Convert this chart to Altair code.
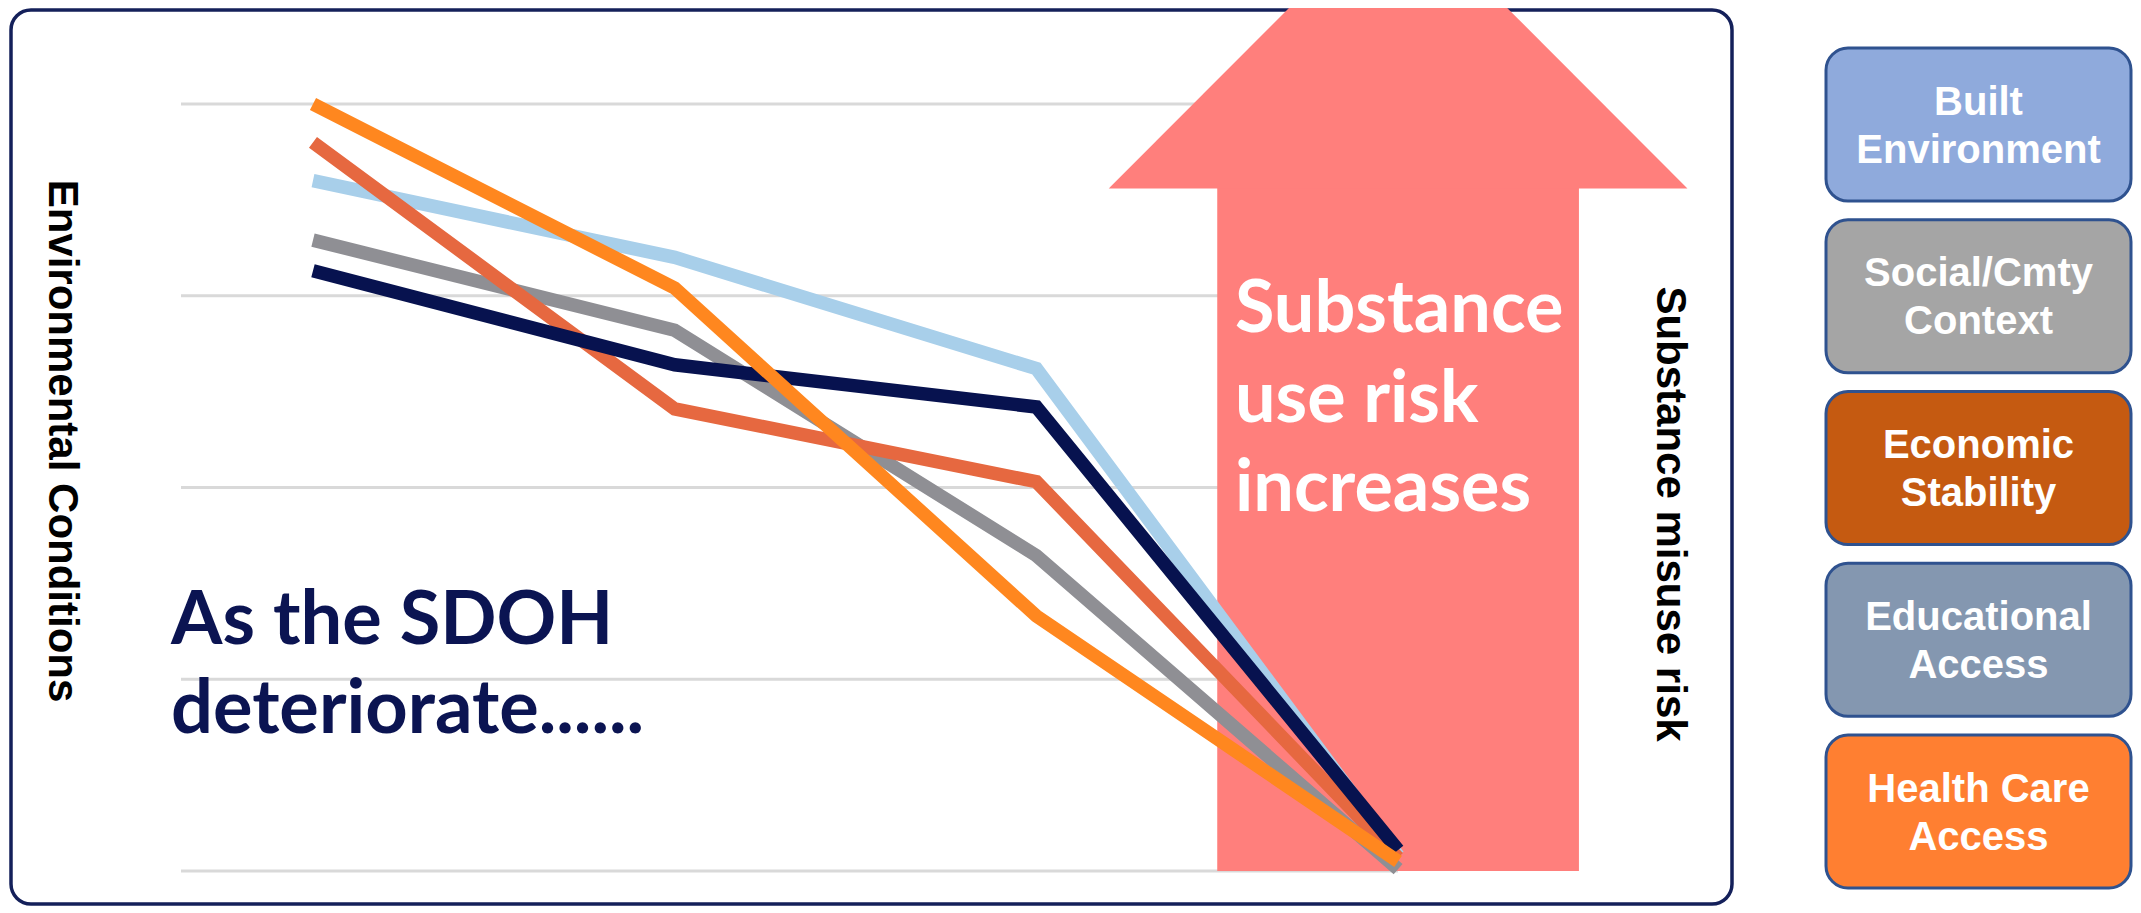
import altair as alt
import pandas as pd

# ---------------- data ----------------
steps = [0, 1, 2, 3]
built_environment = [3.60, 3.20, 2.62, 0.08]
social_context = [3.29, 2.82, 1.645, 0.01]
economic_stability = [3.80, 2.41, 2.03, 0.07]
educational_access = [3.13, 2.64, 2.42, 0.11]
health_care_access = [4.00, 3.04, 1.33, 0.05]

series_names = ["Built Environment", "Social/Cmty Context", "Economic Stability",
                "Educational Access", "Health Care Access"]
series_values = [built_environment, social_context, economic_stability,
                 educational_access, health_care_access]
line_colors = ["#A8CFEA", "#8F8F94", "#E66840", "#07124F", "#FF871F"]
box_colors = ["#8FAADC", "#A5A5A5", "#C55A11", "#8497B0", "#FF7F31"]
box_line1 = ["Built", "Social/Cmty", "Economic", "Educational", "Health Care"]
box_line2 = ["Environment", "Context", "Stability", "Access", "Access"]
grid_values = [0, 1, 2, 3, 4]

left_title = "Environmental Conditions"
right_title = "Substance misuse risk"
sdoh_text = "As the SDOH\ndeteriorate......"
arrow_text = "Substance\nuse risk\nincreases"

# arrow shape, in chart units (step, level)
arrow_shaft_x = [2.5, 3.5]
arrow_shaft_y = [0.0, 4.0]
arrow_head_x = [2.2, 3.0, 3.8]
arrow_head_y = [3.56, 5.07, 3.56]
arrow_head_base = 3.56

# ---------------- scales ----------------
W_LEFT, H = 1760, 897
W_RIGHT = 311
xs = alt.Scale(domain=[-0.8432, 4.0227], nice=False, zero=False)
ys = alt.Scale(domain=[-0.1773, 4.5007], nice=False, zero=False)

ARROW_COLOR = "#FF7F7C"
NAVY = "#0B1452"

# ---------------- left panel ----------------
one = pd.DataFrame({"k": [0]})

frame = alt.Chart(one).mark_rect(
    fill="transparent", stroke="#14205A", strokeWidth=3.5, cornerRadius=20
).encode(x=alt.value(3), x2=alt.value(1724), y=alt.value(2), y2=alt.value(896))

grid = alt.Chart(pd.DataFrame({"v": grid_values})).mark_rule(
    color="#D9D9D9", strokeWidth=3
).encode(
    y=alt.Y("v:Q", scale=ys, axis=None),
    x=alt.value(173), x2=alt.value(1390),
)

shaft = alt.Chart(pd.DataFrame({
    "x0": [arrow_shaft_x[0]], "x1": [arrow_shaft_x[1]],
    "y0": [arrow_shaft_y[0]], "y1": [arrow_shaft_y[1]],
})).mark_rect(color=ARROW_COLOR).encode(
    x=alt.X("x0:Q", scale=xs, axis=None), x2="x1:Q",
    y=alt.Y("y0:Q", scale=ys, axis=None), y2="y1:Q",
)

head = alt.Chart(pd.DataFrame({
    "x": arrow_head_x, "y": arrow_head_y, "base": [arrow_head_base] * 3,
})).mark_area(color=ARROW_COLOR, clip=True, opacity=1).encode(
    x=alt.X("x:Q", scale=xs, axis=None),
    y=alt.Y("y:Q", scale=ys, axis=None),
    y2="base:Q",
)

line_layers = []
for name, vals, col in zip(series_names, series_values, line_colors):
    df = pd.DataFrame({"step": steps, "value": vals, "series": name})
    line_layers.append(
        alt.Chart(df).mark_line(
            color=col, strokeWidth=13.5, strokeCap="butt", strokeJoin="miter"
        ).encode(
            x=alt.X("step:Q", scale=xs, axis=None),
            y=alt.Y("value:Q", scale=ys, axis=None),
        )
    )

left_label = alt.Chart(one).mark_text(
    text=left_title, angle=90, font="Liberation Sans", fontWeight="bold",
    fontSize=42, color="black", align="center", baseline="middle"
).encode(x=alt.value(54), y=alt.value(433))

right_label = alt.Chart(one).mark_text(
    text=right_title, angle=90, font="Liberation Sans", fontWeight="bold",
    fontSize=42, color="black", align="center", baseline="middle"
).encode(x=alt.value(1662), y=alt.value(506))

sdoh = alt.Chart(one).mark_text(
    text=sdoh_text, lineBreak="\n", font="Lato", fontWeight="bold", fontSize=74,
    lineHeight=89, color=NAVY, align="left", baseline="alphabetic"
).encode(x=alt.value(163), y=alt.value(636))

arrow_label = alt.Chart(one).mark_text(
    text=arrow_text, lineBreak="\n", font="Lato", fontWeight="bold", fontSize=72,
    lineHeight=89.5, color="white", align="left", baseline="alphabetic"
).encode(x=alt.value(1227), y=alt.value(324))

left = alt.layer(
    frame, grid, shaft, head, *line_layers, left_label, right_label, sdoh, arrow_label
).properties(width=W_LEFT, height=H)

# ---------------- right panel (category boxes) ----------------
boxes_df = pd.DataFrame({
    "name": series_names,
    "fillc": box_colors,
    "label": [a + "\n" + b for a, b in zip(box_line1, box_line2)],
})
ybox = alt.Y("name:N", sort=series_names, axis=None,
             scale=alt.Scale(paddingInner=0.1092, paddingOuter=0.166, align=0.702))

boxes = alt.Chart(boxes_df).mark_rect(
    cornerRadius=22, stroke="#2F528F", strokeWidth=3
).encode(
    y=ybox, x=alt.value(4), x2=alt.value(309),
    fill=alt.Fill("fillc:N", scale=None, legend=None),
)
box_text = alt.Chart(boxes_df).mark_text(
    lineBreak="\n", font="Liberation Sans", fontWeight="bold", fontSize=40,
    lineHeight=48, color="white", align="center", baseline="middle", dy=-22
).encode(y=ybox, x=alt.value(156.5), text="label:N")

right = alt.layer(boxes, box_text).properties(width=W_RIGHT, height=H)

chart = alt.hconcat(left, right, spacing=54).properties(
    padding=0, background="white"
).configure_view(strokeWidth=0)

chart.save("out.html", embed_options={"renderer": "svg", "actions": False})
